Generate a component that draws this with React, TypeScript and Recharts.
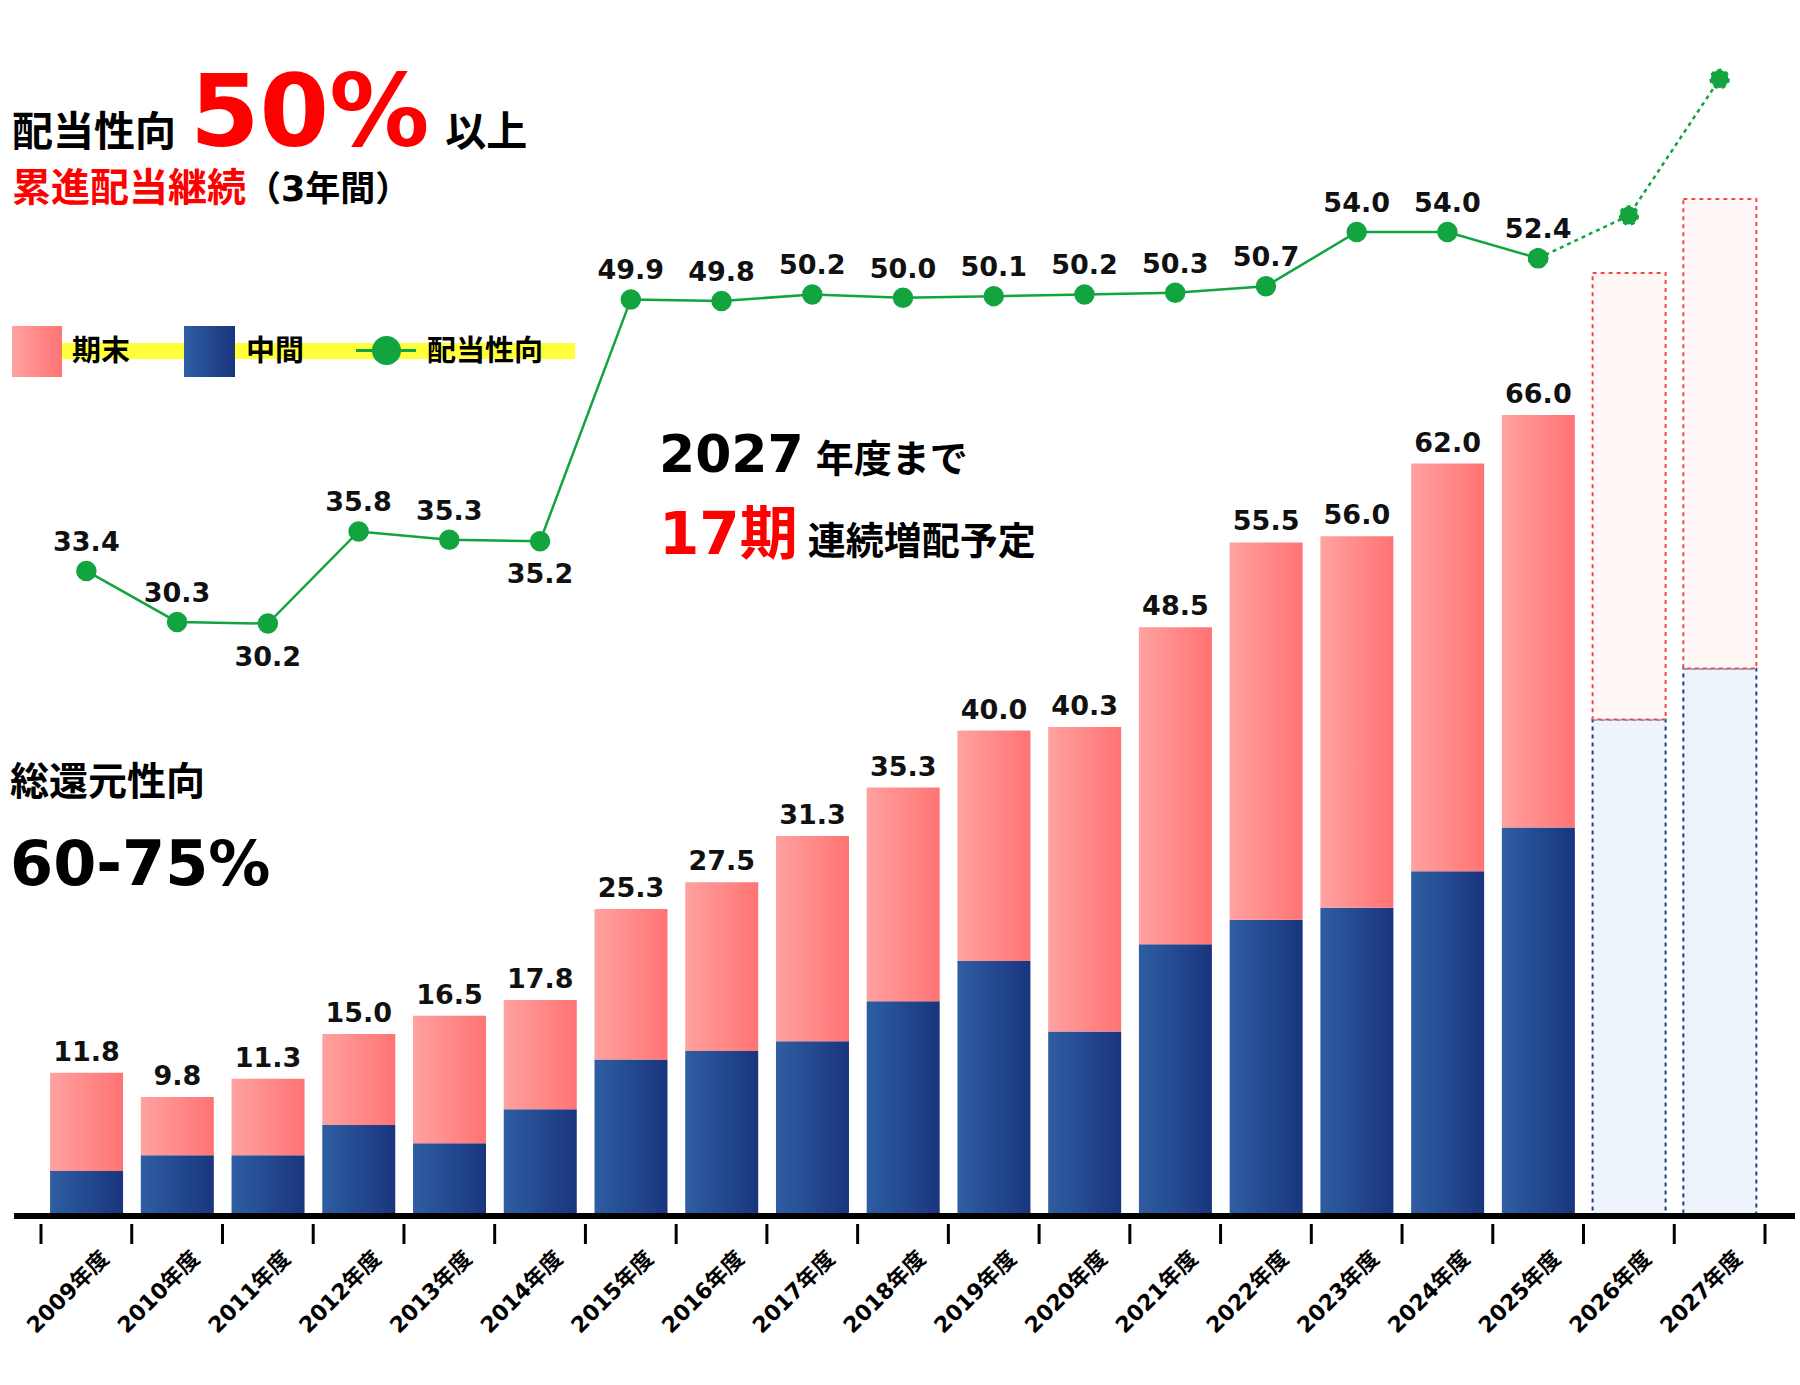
import React from 'react'
import { ComposedChart, Bar, Line, XAxis, YAxis, Cell, LabelList } from 'recharts'

const years = ['2009', '2010', '2011', '2012', '2013', '2014', '2015', '2016', '2017', '2018', '2019', '2020', '2021', '2022', '2023', '2024', '2025', '2026', '2027']
const totalDps = [11.8, 9.8, 11.3, 15.0, 16.5, 17.8, 25.3, 27.5, 31.3, 35.3, 40.0, 40.3, 48.5, 55.5, 56.0, 62.0, 66.0, 77.7, 83.8]
const interimDps = [3.7, 5.0, 5.0, 7.5, 6.0, 8.8, 12.9, 13.6, 14.4, 17.7, 21.0, 15.2, 22.4, 24.4, 25.4, 28.4, 32.0, 40.9, 45.1]
const payoutRatio = [33.4, 30.3, 30.2, 35.8, 35.3, 35.2, 49.9, 49.8, 50.2, 50.0, 50.1, 50.2, 50.3, 50.7, 54.0, 54.0, 52.4, 55.0, 63.3]
const forecastFrom = 17 // 2026年度以降は予想
const labelBelow = ['2011', '2014']

const data = years.map((y, i) => ({
  name: `${y}年度`,
  year: y,
  interim: interimDps[i],
  final: +(totalDps[i] - interimDps[i]).toFixed(1),
  total: totalDps[i],
  forecast: i >= forecastFrom,
  ratio: i < forecastFrom ? payoutRatio[i] : null,
  ratioPlan: i >= forecastFrom - 1 ? payoutRatio[i] : null,
}))

const JP = '"DejaVu Sans", "Noto Sans CJK JP", sans-serif'
const GREEN = '#12a53f'
const BAND = 1724 / 19

const AxisTick = ({ x, y, payload, index }: any) => (
  <g>
    <line x1={x - BAND / 2} x2={x - BAND / 2} y1={y} y2={y + 20} stroke="#000" strokeWidth={3} />
    {index === years.length - 1 && (
      <line x1={x + BAND / 2} x2={x + BAND / 2} y1={y} y2={y + 20} stroke="#000" strokeWidth={3} />
    )}
    <text x={x + 24} y={y + 36} textAnchor="end" transform={`rotate(-45 ${x + 24} ${y + 36})`}
      fontFamily={JP} fontWeight="bold" fontSize={22} fill="#000">
      {payload.value}
    </text>
  </g>
)

const TotalLabel = ({ x, y, width, index }: any) => {
  if (data[index].forecast) return null
  return (
    <text x={x + width / 2} y={y - 12} textAnchor="middle" fontFamily={JP} fontWeight="bold" fontSize={27} fill="#111">
      {totalDps[index].toFixed(1)}
    </text>
  )
}

const RatioLabel = ({ x, y, index }: any) => {
  if (index >= forecastFrom) return null
  const below = labelBelow.includes(years[index])
  return (
    <text x={x} y={below ? y + 42 : y - 20} textAnchor="middle" fontFamily={JP} fontWeight="bold" fontSize={27} fill="#111">
      {payoutRatio[index].toFixed(1)}
    </text>
  )
}

const abs = (top: number, left: number, extra: React.CSSProperties = {}): React.CSSProperties => ({
  position: 'absolute', top, left, fontFamily: JP, fontWeight: 'bold', whiteSpace: 'nowrap', lineHeight: 1, ...extra,
})

export default function App() {
  return (
    <div style={{ position: 'absolute', left: 0, top: 0, width: 1800, height: 1385, background: '#fff', overflow: 'hidden' }}>
      <ComposedChart width={1800} height={1385} data={data} margin={{ top: 46, right: 5, left: 14, bottom: 0 }} barCategoryGap="10%">
        <defs>
          <linearGradient id="gPink" x1="0" y1="0" x2="1" y2="0">
            <stop offset="0%" stopColor="#ffa2a0" />
            <stop offset="100%" stopColor="#ff7373" />
          </linearGradient>
          <linearGradient id="gBlue" x1="0" y1="0" x2="1" y2="0">
            <stop offset="0%" stopColor="#2f5ea3" />
            <stop offset="100%" stopColor="#19357d" />
          </linearGradient>
        </defs>
        <XAxis dataKey="name" height={169} padding={{ left: 27, right: 30 }} interval={0}
          axisLine={{ stroke: '#000', strokeWidth: 6 }} tickLine={false} tick={<AxisTick />} />
        <YAxis yAxisId="amt" domain={[0, 96.4]} hide />
        <YAxis yAxisId="ratio" domain={[-5.8, 65.3]} hide />
        <Bar yAxisId="amt" dataKey="interim" stackId="d" isAnimationActive={false}>
          {data.map((d, i) => (
            <Cell key={`i-${i}`} fill={d.forecast ? '#eef4fc' : 'url(#gBlue)'}
              stroke={d.forecast ? '#1e3f8a' : 'none'} strokeWidth={2} strokeDasharray={d.forecast ? '4 4' : undefined} />
          ))}
        </Bar>
        <Bar yAxisId="amt" dataKey="final" stackId="d" isAnimationActive={false}>
          {data.map((d, i) => (
            <Cell key={`f-${i}`} fill={d.forecast ? '#fff8f7' : 'url(#gPink)'}
              stroke={d.forecast ? '#f04848' : 'none'} strokeWidth={2} strokeDasharray={d.forecast ? '4 4' : undefined} />
          ))}
          <LabelList dataKey="total" content={<TotalLabel />} />
        </Bar>
        <Line yAxisId="ratio" dataKey="ratioPlan" stroke={GREEN} strokeWidth={2.5} strokeDasharray="4 4"
          dot={{ r: 9, fill: GREEN, stroke: GREEN }} isAnimationActive={false} connectNulls={false} />
        <Line yAxisId="ratio" dataKey="ratio" stroke={GREEN} strokeWidth={2.5}
          dot={{ r: 9, fill: GREEN, stroke: GREEN }} isAnimationActive={false}>
          <LabelList dataKey="ratio" content={<RatioLabel />} />
        </Line>
      </ComposedChart>

      {/* 見出し */}
      <div style={abs(62, 12, { display: 'flex', alignItems: 'baseline' })}>
        <span style={{ fontSize: 41 }}>配当性向</span>
        <span style={{ fontSize: 100, color: '#f00', margin: '0 16px 0 14px' }}>50%</span>
        <span style={{ fontSize: 41 }}>以上</span>
      </div>
      <div style={abs(168, 12)}>
        <span style={{ fontSize: 39, color: '#f00' }}>累進配当継続</span>
        <span style={{ fontSize: 35 }}>（3年間）</span>
      </div>

      {/* 凡例 */}
      <div style={{ position: 'absolute', top: 343, left: 12, width: 563, height: 16, background: '#ffff3a' }} />
      <div style={{ position: 'absolute', top: 326, left: 12, width: 50, height: 51, background: 'linear-gradient(90deg,#ffa2a0,#ff7373)' }} />
      <div style={abs(337, 72, { fontSize: 29 })}>期末</div>
      <div style={{ position: 'absolute', top: 326, left: 184, width: 51, height: 51, background: 'linear-gradient(90deg,#2f5ea3,#19357d)' }} />
      <div style={abs(337, 246, { fontSize: 29 })}>中間</div>
      <div style={{ position: 'absolute', top: 349, left: 356, width: 60, height: 3, background: GREEN }} />
      <div style={{ position: 'absolute', top: 336, left: 372, width: 29, height: 29, borderRadius: '50%', background: GREEN }} />
      <div style={abs(337, 427, { fontSize: 29 })}>配当性向</div>

      {/* 増配 */}
      <div style={abs(428, 659, { display: 'flex', alignItems: 'baseline' })}>
        <span style={{ fontSize: 52 }}>2027</span>
        <span style={{ fontSize: 38, marginLeft: 12 }}>年度まで</span>
      </div>
      <div style={abs(505, 659, { display: 'flex', alignItems: 'baseline' })}>
        <span style={{ fontSize: 58, color: '#f00' }}>17期</span>
        <span style={{ fontSize: 38, marginLeft: 10 }}>連続増配予定</span>
      </div>

      {/* 総還元性向 */}
      <div style={abs(762, 10, { fontSize: 39 })}>総還元性向</div>
      <div style={abs(833, 10, { fontSize: 62 })}>60-75%</div>
    </div>
  )
}
